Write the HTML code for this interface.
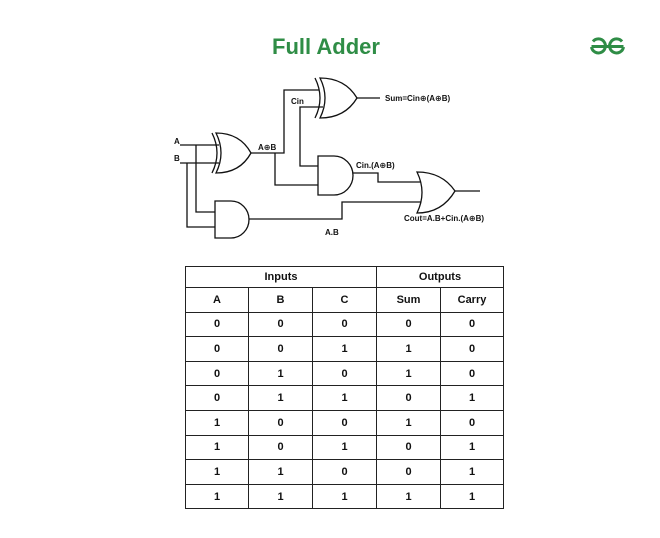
<!DOCTYPE html>
<html><head><style>
body{margin:0;background:#fff;width:660px;height:538px;position:relative;overflow:hidden;font-family:"Liberation Sans",sans-serif}
.t{position:absolute;left:185px;top:266px;border-collapse:collapse;font-size:11px;font-weight:bold;color:#111}
.t td{border:1.3px solid #222;text-align:center;padding:0;height:23.6px}
</style></head><body>
<div style="position:absolute;left:272px;top:34px;font-size:22px;font-weight:bold;color:#2f8d46">Full Adder</div>
<svg width="660" height="538" style="position:absolute;left:0;top:0">
<g fill="none" stroke="#2f8d46" stroke-width="3">
<path d="M593 41.5 A7 7 0 1 1 591.5 47 M591.5 46.5 H608"/>
<path d="M622 41.5 A7 7 0 1 0 623.5 47 M623.5 46.5 H607"/>
</g>
<g fill="none" stroke="#111" stroke-width="1.3">
<path d="M212 133 Q222 153 212 173"/>
<path d="M216 133 Q226 153 216 173 Q240 173 251 153 Q240 133 216 133Z"/>
<path d="M180 145 H219 M180 163 H219"/>
<path d="M196 145 V212 H215 M187 163 V227 H215"/>
<path d="M215 201 H231 A18 18.5 0 0 1 231 238 H215Z"/>
<path d="M249 219 H342 V202 H421"/>
<path d="M251 153 H284 V90 H319 M275 153 V185 H318"/>
<path d="M315 78 Q325 98 315 118"/>
<path d="M320 78 Q330 98 320 118 Q345 118 357 98 Q345 78 320 78Z"/>
<path d="M357 98 H380"/>
<path d="M323 107 H300 V166 H318"/>
<path d="M318 156 H334 A19 19.5 0 0 1 334 195 H318Z"/>
<path d="M353 173 H378 V182 H421"/>
<path d="M417 172 Q427 192.5 417 213 Q442 213 455 191 Q442 172 417 172Z"/>
<path d="M455 191 H480"/>
</g>
<g font-size="8" font-weight="bold" fill="#111" font-family="Liberation Sans,DejaVu Sans,sans-serif">
<text x="174" y="144">A</text><text x="174" y="161">B</text>
<text x="258" y="150">A⊕B</text>
<text x="291" y="104">Cin</text>
<text x="385" y="101">Sum=Cin⊕(A⊕B)</text>
<text x="356" y="168">Cin.(A⊕B)</text>
<text x="404" y="221">Cout=A.B+Cin.(A⊕B)</text>
<text x="325" y="235">A.B</text>
</g>
</svg>
<table class="t">
<colgroup><col style="width:63px"><col style="width:64px"><col style="width:64px"><col style="width:64px"><col style="width:63px"></colgroup>
<tr><td colspan="3" style="height:20px">Inputs</td><td colspan="2" style="height:20px">Outputs</td></tr>
<tr><td>A</td><td>B</td><td>C</td><td>Sum</td><td>Carry</td></tr>
<tr><td>0</td><td>0</td><td>0</td><td>0</td><td>0</td></tr>
<tr><td>0</td><td>0</td><td>1</td><td>1</td><td>0</td></tr>
<tr><td>0</td><td>1</td><td>0</td><td>1</td><td>0</td></tr>
<tr><td>0</td><td>1</td><td>1</td><td>0</td><td>1</td></tr>
<tr><td>1</td><td>0</td><td>0</td><td>1</td><td>0</td></tr>
<tr><td>1</td><td>0</td><td>1</td><td>0</td><td>1</td></tr>
<tr><td>1</td><td>1</td><td>0</td><td>0</td><td>1</td></tr>
<tr><td>1</td><td>1</td><td>1</td><td>1</td><td>1</td></tr>
</table>
</body></html>
